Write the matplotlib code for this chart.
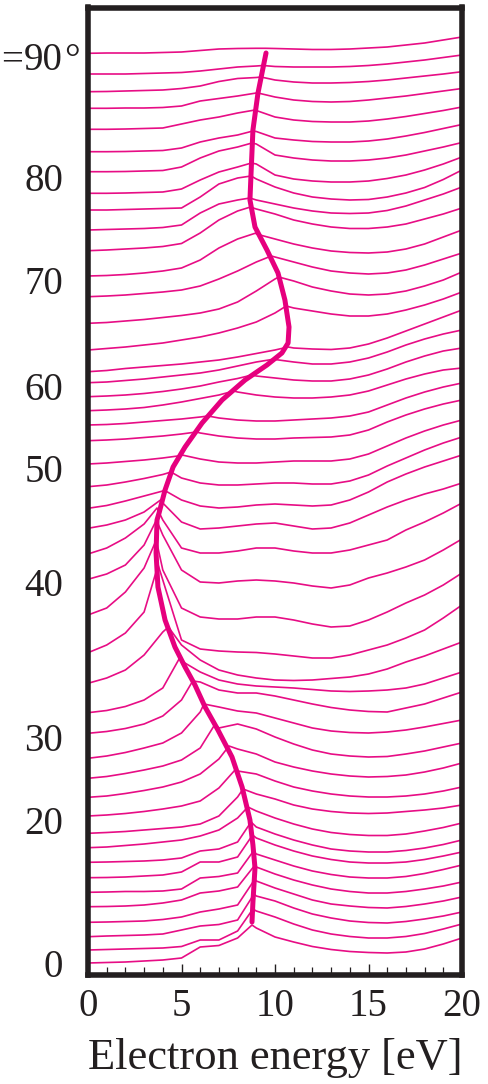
import numpy as np
import matplotlib
matplotlib.use('Agg')
import matplotlib.pyplot as plt
from matplotlib.ticker import MultipleLocator

# Spectra. One row per emission angle (0..90 deg),
# values sampled every 1 eV. Levels are measured downwards from the top
# of the frame, so the y axis is drawn inverted.
angles = [0, 2, 4, 6, 8, 10, 12, 14, 16, 18, 20, 22, 24, 26, 28, 30,
          32, 34, 36, 38, 40, 42, 44, 46, 48, 50, 52, 54, 56, 58, 60,
          62, 64, 66, 68, 70, 72, 74, 76, 78, 80, 82, 84, 86, 88, 90]
energies = [0, 1, 2, 3, 4, 5, 6, 7, 8, 9, 10,
            11, 12, 13, 14, 15, 16, 17, 18, 19, 20]

spectra = [
    [963, 962.5, 962, 961, 960, 958, 947, 945.5, 938, 928, 937, 942, 946.5, 949.5, 951.5, 952.5, 953, 952, 949, 944, 938],
    [950, 949.5, 949, 948.5, 948, 946.5, 940, 940, 931, 911, 917, 924, 930, 934, 936.5, 938, 938, 936.5, 933.5, 929, 924],
    [936.7, 936, 935.5, 935, 934, 930, 926, 924.5, 920, 896, 901, 908, 914, 918, 921, 922.5, 923, 921.5, 919, 916, 912],
    [922.3, 922, 921.5, 921, 919.5, 917, 912, 909, 905, 881, 888, 894, 900, 904, 906, 907.5, 908, 906.5, 904, 901, 897],
    [906.7, 906.5, 906, 905, 903, 900, 893, 891, 887, 867, 874, 880, 885, 889, 891.5, 893, 893, 891.5, 889, 886, 882],
    [892.3, 892, 891.5, 891.5, 891, 889, 878, 876.5, 873, 854, 860, 866, 871, 874.5, 877, 878, 878, 876.5, 873.5, 869.5, 865],
    [877.7, 877.5, 877, 876, 875, 872, 862, 862, 857, 838, 845, 851, 856, 859.5, 862, 863, 863, 862, 859.5, 856, 852],
    [862.3, 862, 861.5, 861, 860, 858, 851, 849, 842, 827, 834, 840, 845, 849, 851, 852, 852, 850.5, 848, 844.5, 840],
    [847.7, 847, 845.5, 844, 842, 840, 836, 830, 818, 811, 818, 824, 829, 832.5, 834.5, 835.5, 835.5, 834, 831, 827.5, 823],
    [833.3, 832.5, 831.5, 830, 828.5, 827, 824, 816, 797, 794, 799, 805, 809, 811.5, 813, 813.5, 813, 811.5, 810, 808, 805],
    [816, 815, 813.5, 811.5, 809, 806, 801, 788, 771, 774, 781, 787, 791, 794, 796, 797, 797, 796, 794, 791, 787],
    [797.3, 796, 793.5, 790.5, 787, 782, 774, 759, 749, 754, 762, 767, 771, 774, 776, 777, 776.5, 775, 772, 768, 763],
    [778.3, 776.5, 773.5, 770, 766, 760, 748, 728, 724, 729, 737, 744, 750, 754, 756, 757, 756.5, 754, 751, 747, 743],
    [758.3, 756, 752.5, 748, 743, 733, 712, 707, 711, 713, 718, 723, 728, 731, 732.5, 733, 732, 730, 727, 723.5, 720],
    [733.3, 731.5, 728.5, 724, 716, 700, 682, 690, 693, 693, 696, 700, 704, 707.5, 710, 711.5, 712, 708, 704, 698, 692],
    [712.7, 710.5, 706.5, 700, 688, 661, 672, 680, 684, 686, 687, 688, 689.5, 691, 691.5, 691, 690, 688, 684, 678, 672],
    [683.3, 678, 670, 655, 632, 645, 660, 670, 675, 678, 680, 680.5, 680, 678.5, 677, 674, 669, 662, 656, 649, 642],
    [652.7, 645, 633, 612, 580, 640, 649, 651, 652, 652.5, 654, 656, 658, 658, 655, 650, 645, 638, 630, 618, 605],
    [615, 608, 592, 568, 570, 608, 617, 619, 619, 617, 617, 620, 624, 627, 626, 620, 612, 603, 595, 585, 573],
    [579.3, 574, 565, 545, 535, 570, 582, 583, 581, 580, 581, 583, 586, 588, 585, 578, 573, 567, 560, 550, 539],
    [554, 548, 538, 524, 520, 548, 553, 553, 551, 548, 548, 551, 553, 553, 550, 545, 540, 530, 522, 513, 503],
    [528.3, 525, 520, 512, 503, 522, 529, 528, 526, 524, 523, 526, 529, 528, 523, 515, 507, 500, 494, 489, 483],
    [508.3, 505.5, 501, 496, 491, 500, 506, 508, 507, 505, 504, 505, 506, 505, 500, 492, 482, 474, 467, 461, 455],
    [486.7, 485, 482, 478.5, 474.5, 478, 483, 485, 485, 484, 483, 483, 484, 484, 481, 475, 466, 458, 450, 443, 437],
    [464, 463, 461.5, 460, 458, 455.5, 459, 462, 463, 463, 462, 461, 461, 461, 459, 454, 446, 438, 431, 425, 420],
    [440.7, 440, 439, 437.5, 436, 434, 433, 436, 438, 439, 439, 438, 437.5, 437, 435, 430, 422, 415, 409, 404, 400],
    [425, 424.5, 423.5, 422, 420.5, 419, 417, 418, 420, 421, 421, 420, 419, 418, 416, 412, 405, 398, 392, 387, 383],
    [410.7, 410, 409, 407.5, 405, 402, 398.5, 395, 392, 395, 397, 398, 398, 397, 395, 391, 385, 379, 374, 370, 368],
    [396.7, 396, 395, 393.5, 391.5, 389, 386, 382, 378.5, 376, 378, 380, 381, 381, 379, 375, 369, 362, 356, 351, 348],
    [382.7, 382, 380.5, 379, 377, 375, 373, 370, 366, 362, 359.5, 362, 364, 364, 362, 358, 352, 345, 339, 334, 330],
    [371.7, 370.5, 368.5, 367, 365.5, 364, 362, 360, 357, 353.5, 350, 348, 349, 349.5, 348, 344, 338, 331, 324, 317, 310],
    [350, 348.5, 347, 345, 343, 340, 337, 333, 328, 322, 313, 308, 311, 314, 316, 316, 314, 310, 305, 299, 292],
    [323.3, 322.5, 321, 319.5, 317.5, 315.5, 313, 309, 302, 291, 279, 281, 287, 291, 294, 295, 294, 291, 286, 280, 272],
    [296.7, 296, 295, 293.5, 292, 290, 286, 279, 271, 262, 257, 262, 267, 271, 273, 274, 273, 270, 265, 259, 253],
    [276, 275.5, 274.5, 273, 271, 268, 260, 248, 239, 234, 239, 244, 248, 251, 252.5, 253, 252, 249, 244, 237, 230],
    [250.7, 250, 249, 248, 246.5, 243.5, 233, 220, 211, 209, 214, 220, 224, 227, 228.5, 228.5, 227, 224, 219, 214, 208],
    [230, 229.5, 229, 228.5, 227.5, 225, 213, 204, 200, 200, 204, 208, 211, 213, 213.5, 213, 210.5, 206, 200, 194, 187],
    [210, 210, 209.5, 209, 208.5, 208, 197, 184, 178, 179, 187, 193, 197, 199, 200, 199.5, 197, 193, 187.5, 179.5, 170],
    [193.3, 193.3, 193, 192.5, 192, 189, 180, 172, 167, 164, 175, 179, 181, 182, 182, 181, 178.5, 175, 170, 164, 157],
    [171.7, 171.7, 171.5, 171, 170.5, 167, 158, 151, 147, 144, 155, 158, 160, 161, 161, 160, 158, 155, 151, 147, 142.5],
    [151.7, 151.7, 151.5, 151, 150.5, 148, 142, 138, 135, 131.5, 138, 140, 141.5, 142, 142, 141, 139, 136, 132.5, 128.5, 124.5],
    [129.3, 129.3, 129, 128.5, 128, 124, 120, 117, 113, 110.5, 117, 120, 121.5, 122, 122, 121, 119, 116.5, 113.5, 110.5, 107],
    [108.3, 108.3, 108, 108, 107.5, 106, 101, 98.5, 96, 93, 97, 100, 101.5, 102, 101.5, 100, 98, 96, 93.5, 91, 88.5],
    [91.7, 91.5, 91, 90.5, 90, 88.5, 86, 81.5, 78.5, 77.5, 80, 82, 83, 83, 82.5, 81.5, 80, 78, 76, 74, 71.7],
    [74, 74, 74, 73.5, 73, 72.5, 71, 69, 67, 66, 66.5, 67, 67, 67, 66.5, 65.5, 64, 62, 60, 57.5, 55],
    [53.3, 53, 53, 53, 52.5, 52, 50.5, 49, 48.5, 48.3, 48.5, 49, 49.5, 49.5, 49, 48, 47, 45, 43, 40, 37],
]

# the main peak of every spectrum (energy in eV, level)
peak_energy = [8.77, 8.82, 8.88, 8.93, 8.93, 8.85, 8.8, 8.72, 8.55, 8.29,
               7.91, 7.54, 6.8, 6.2, 5.6, 4.9, 4.3, 3.75, 3.65, 3.66,
               3.69, 3.88, 4.06, 4.44, 5.03, 5.8, 6.42, 7.8, 8.77, 10.0,
               10.7, 10.6, 10.2, 9.8, 8.98, 8.69, 8.66, 8.72, 8.74, 8.77,
               8.82, 8.93, 9.09, 9.25, 9.36, 9.5]
peak_level = [925, 909, 894, 879, 865, 851, 835, 822, 807, 789,
              769, 746, 724, 704, 681, 658, 627, 565, 540, 520,
              508, 500, 490, 472, 455, 432, 416, 391, 375, 359,
              347, 306, 277, 256, 233, 207, 198, 176, 163, 143,
              131, 110, 93, 77, 65.5, 48.3]

# thick guide line through the peaks
trace_energy = [9.52, 9.09, 8.82, 8.72, 8.66, 8.93, 9.57, 10.16, 10.53, 10.75,
                10.7, 10.37, 9.57, 8.4, 7.17, 6.1, 5.19, 4.55, 4.12, 3.8,
                3.69, 3.64, 3.74, 4.12, 4.65, 5.19, 5.72, 6.26, 6.95, 7.7,
                8.24, 8.66, 8.82, 8.93, 8.82, 8.77]
trace_level = [53, 93, 130, 173, 200, 227, 250, 273, 300, 327,
               343, 353, 365, 380, 400, 423, 447, 467, 490, 513,
               520, 553, 587, 620, 647, 667, 685, 707, 730, 757,
               787, 820, 845, 868, 902, 922]

tick_angles = ['0', '20', '30', '40', '50', '60', '70', '80']
tick_levels = [963, 820, 737, 582, 468, 386, 280, 177]

PINK = '#e6007e'
INK = '#231f20'

plt.rcParams['font.family'] = ['Liberation Serif', 'DejaVu Serif']

fig = plt.figure(figsize=(4.89, 10.84), dpi=100)
ax = fig.add_axes([88 / 489, 109 / 1084, 374 / 489, 967.5 / 1084])

e = np.array(energies, dtype=float)
for row, pe, pl in zip(spectra, peak_energy, peak_level):
    i = np.searchsorted(e, pe)
    x = np.insert(e, i, pe)
    y = np.insert(np.array(row, dtype=float), i, pl)
    ax.plot(x, y, color=PINK, lw=1.2, alpha=0.95, solid_joinstyle='round')

ax.plot(trace_energy, trace_level, color=PINK, lw=3.6,
        solid_capstyle='round', solid_joinstyle='round', zorder=5)

ax.set_xlim(0, 20)
ax.set_ylim(975, 7.5)

for s in ax.spines.values():
    s.set_linewidth(4)
    s.set_color(INK)

ax.set_xticks([0, 5, 10, 15, 20])
ax.xaxis.set_minor_locator(MultipleLocator(1))
ax.tick_params(axis='x', which='major', direction='in', length=8, width=1.0,
               color=INK, labelsize=28, labelcolor=INK, pad=9)
ax.tick_params(axis='x', which='minor', direction='in', length=5.6, width=0.9,
               color=INK)
ax.set_yticks(tick_levels)
ax.set_yticklabels(tick_angles)
ax.tick_params(axis='y', length=0, labelsize=28, labelcolor=INK, pad=18)

# top label: "= 90" with its degree sign hanging past the number column
ax.annotate('90', xy=(0, 70.5), xycoords=('axes fraction', 'data'),
            xytext=(-25, 0), textcoords='offset pixels',
            ha='right', va='baseline', fontsize=28, color=INK,
            annotation_clip=False)
ax.annotate('°', xy=(0, 70.5), xycoords=('axes fraction', 'data'),
            xytext=(-24, 0), textcoords='offset pixels',
            ha='left', va='baseline', fontsize=28, color=INK,
            annotation_clip=False)
ax.annotate('=', xy=(0, 70.5), xycoords=('axes fraction', 'data'),
            xytext=(-87, 0), textcoords='offset pixels',
            ha='left', va='baseline', fontsize=28, color=INK,
            annotation_clip=False)

ax.set_xlabel('Electron energy [eV]', fontsize=32, color=INK, labelpad=10)

fig.savefig('out.png', dpi=100)
